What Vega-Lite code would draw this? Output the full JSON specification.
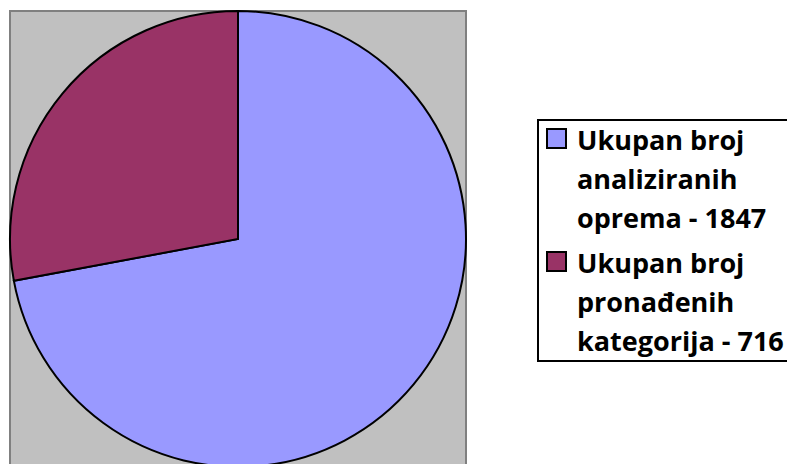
{
  "$schema": "https://vega.github.io/schema/vega-lite/v6.json",
  "width": 456,
  "height": 456,
  "autosize": "none",
  "padding": {"left": 10, "top": 11, "right": 321, "bottom": 0},
  "background": "white",
  "view": {"fill": "#C0C0C0", "stroke": "#808080", "strokeWidth": 2},
  "config": {"legend": {"strokeWidth": 2}},
  "data": {
    "values": [
      {"kategorija": "Ukupan broj analiziranih oprema - 1847", "vrijednost": 1847, "red": 1},
      {"kategorija": "Ukupan broj pronađenih kategorija - 716", "vrijednost": 716, "red": 2}
    ]
  },
  "mark": {"type": "arc", "outerRadius": 228, "stroke": "black", "strokeWidth": 2},
  "encoding": {
    "theta": {"field": "vrijednost", "type": "quantitative", "stack": true},
    "order": {"field": "red", "type": "quantitative"},
    "color": {
      "field": "kategorija",
      "type": "nominal",
      "sort": null,
      "scale": {
        "domain": ["Ukupan broj analiziranih oprema - 1847", "Ukupan broj pronađenih kategorija - 716"],
        "range": ["#9999FF", "#993366"]
      },
      "legend": {
        "title": null,
        "orient": "none",
        "legendX": 528,
        "legendY": 109,
        "padding": 5,
        "strokeColor": "black",
        "fillColor": "white",
        "symbolType": "square",
        "symbolSize": 361,
        "symbolStrokeColor": "black",
        "symbolStrokeWidth": 2,
        "symbolOpacity": 1,
        "labelFont": "Open Sans",
        "labelFontWeight": "bold",
        "labelFontSize": 27,
        "labelColor": "black",
        "labelLimit": 400,
        "labelBaseline": "top",
        "labelOffset": 7,
        "rowPadding": 15,
        "encoding": {
          "legend": {"strokeWidth": {"value": 2}},
          "labels": {"lineHeight": {"value": 39}, "dy": {"value": -10}}
        },
        "labelExpr": "datum.label == 'Ukupan broj analiziranih oprema - 1847' ? ['Ukupan broj', 'analiziranih', 'oprema - 1847'] : ['Ukupan broj', 'pronađenih', 'kategorija - 716']"
      }
    }
  }
}
